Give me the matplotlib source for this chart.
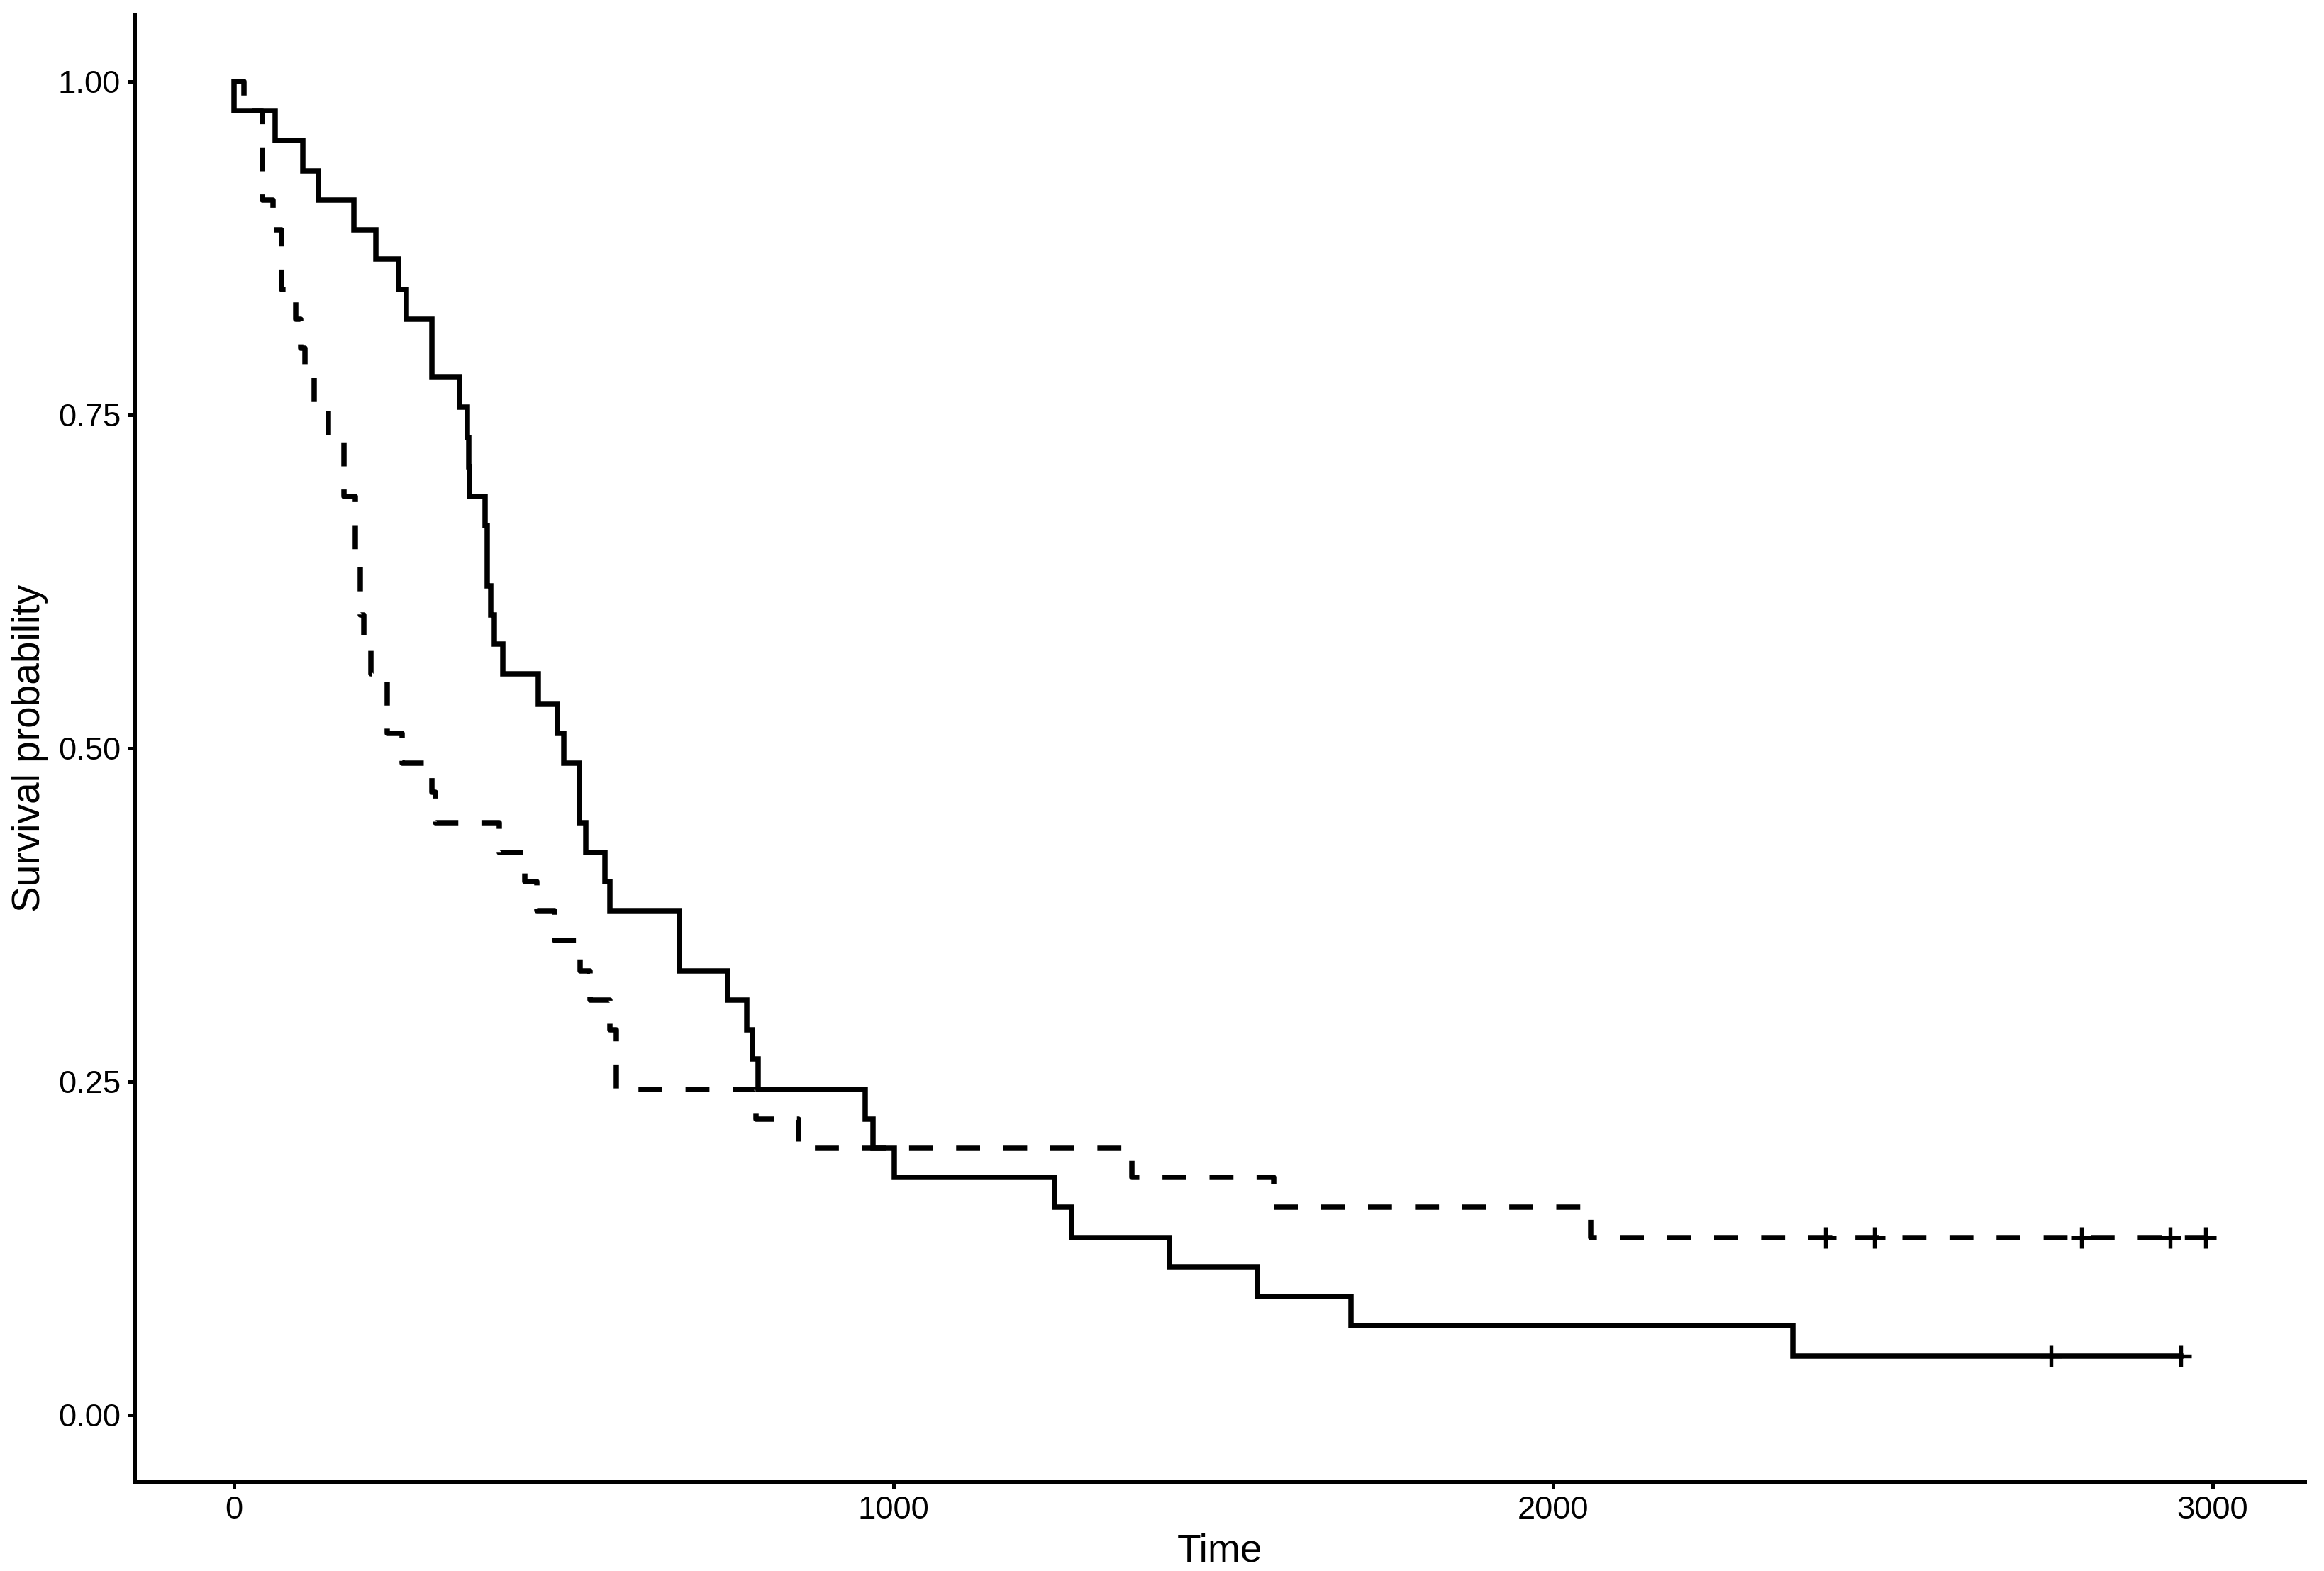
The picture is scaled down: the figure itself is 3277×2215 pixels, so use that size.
import numpy as np
import matplotlib
matplotlib.use('Agg')
import matplotlib.pyplot as plt
from matplotlib.ticker import FormatStrFormatter

plt.rcParams['font.family'] = ['Liberation Sans', 'DejaVu Sans']

# solid curve (group 1): step times and survival after each step
time_solid = [0, 1, 63, 105, 129, 182, 216, 250, 262, 301, 342, 354, 356, 358,
              381, 384, 390, 395, 408, 462, 491, 500, 524, 534, 563, 570, 676,
              749, 778, 786, 795, 957, 969, 1001, 1245, 1270, 1419, 1552, 1694,
              2364, 2952]
surv_solid = [1.0, 0.978, 0.956, 0.933, 0.911, 0.889, 0.867, 0.844, 0.822, 0.778,
              0.756, 0.733, 0.711, 0.689, 0.667, 0.622, 0.600, 0.578, 0.556, 0.533,
              0.511, 0.489, 0.444, 0.422, 0.400, 0.378, 0.333, 0.311, 0.289, 0.267,
              0.244, 0.222, 0.200, 0.178, 0.156, 0.133, 0.111, 0.089, 0.067, 0.044,
              0.044]
cens_solid = [2755, 2952]

# dashed curve (group 2)
time_dash = [0, 16, 43, 60, 73, 94, 102, 108, 122, 143, 167, 184, 192, 197, 208,
             233, 255, 300, 306, 403, 441, 460, 486, 525, 540, 570, 580, 792, 856,
             1362, 1577, 2057, 2990]
surv_dash = [1.0, 0.978, 0.911, 0.889, 0.844, 0.822, 0.800, 0.778, 0.756, 0.733,
             0.689, 0.644, 0.600, 0.578, 0.556, 0.511, 0.489, 0.467, 0.444, 0.422,
             0.400, 0.378, 0.356, 0.333, 0.311, 0.289, 0.244, 0.222, 0.200, 0.178,
             0.156, 0.133, 0.133]
cens_dash = [2413, 2487, 2801, 2936, 2990]


def surv_at(times, surv, t):
    idx = np.searchsorted(times, t, side='right') - 1
    return np.asarray(surv)[idx]


W, H = 3277, 2215
fig = plt.figure(figsize=(W / 300, H / 300), dpi=300)
ax = fig.add_axes([190 / W, 1 - 2089 / H, 3060 / W, 2068 / H])

lw = 1.8
ax.plot(time_dash, surv_dash, drawstyle='steps-post', color='black', lw=lw,
        linestyle=(0, (4.5, 4.35)), solid_joinstyle='miter')
ax.plot(time_solid, surv_solid, drawstyle='steps-post', color='black', lw=lw,
        solid_joinstyle='miter')

ax.plot(cens_dash, surv_at(time_dash, surv_dash, cens_dash), ls='none',
        marker='+', ms=7.2, mew=1.3, color='black')
ax.plot(cens_solid, surv_at(time_solid, surv_solid, cens_solid), ls='none',
        marker='+', ms=7.2, mew=1.3, color='black')

ax.set_xlim(-150, 3140)
ax.set_ylim(-0.05, 1.05)
ax.set_xticks([0, 1000, 2000, 3000])
ax.set_yticks([0, 0.25, 0.5, 0.75, 1.0])
ax.yaxis.set_major_formatter(FormatStrFormatter('%.2f'))

for s in ['top', 'right']:
    ax.spines[s].set_visible(False)
for s in ['left', 'bottom']:
    ax.spines[s].set_linewidth(1.2)

ax.tick_params(length=2.4, width=1.2, labelsize=10.9, pad=2.4, colors='black')

ax.set_xlabel('Time', fontsize=13.2)
ax.set_ylabel('Survival probability', fontsize=13.2)
ax.xaxis.set_label_coords(0.5, -0.035)
ax.yaxis.set_label_coords(-0.040, 0.5)

fig.savefig('out.png', dpi=300)
